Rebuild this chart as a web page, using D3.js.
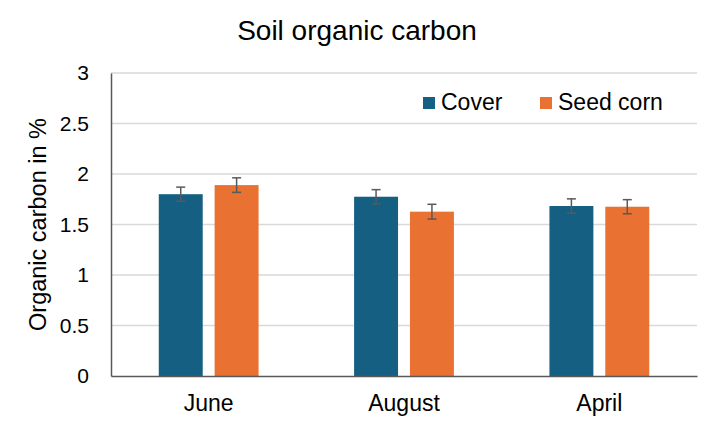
<!DOCTYPE html>
<html>
<head>
<meta charset="utf-8">
<script src="https://cdn.jsdelivr.net/npm/d3@7"></script>
<style>
  body { margin: 0; background: #fff; }
  text { font-family: "Liberation Sans", Arial, Helvetica, sans-serif; fill: #000; }
</style>
</head>
<body>
<svg id="chart" width="720" height="430"></svg>
<script>
const categories = ["June", "August", "April"];
const seriesNames = ["Cover", "Seed corn"];
const coverValues = [1.80, 1.775, 1.683];
const seedCornValues = [1.89, 1.627, 1.676];
const coverErrors = [0.07, 0.07, 0.071];
const seedCornErrors = [0.072, 0.073, 0.07];
const yTicks = [0, 0.5, 1, 1.5, 2, 2.5, 3];
const colors = ["#156082", "#E97132"];

const svg = d3.select("#chart");
const margin = { left: 111, right: 23, top: 73, bottom: 54 };
const W = 720, H = 430;

const x = d3.scaleBand().domain(categories).range([margin.left, W - margin.right]).paddingInner(0).paddingOuter(0);
const barW = x.bandwidth() * 0.225;
const gap = x.bandwidth() * 0.061;
const y = d3.scaleLinear().domain([0, 3]).range([H - margin.bottom, margin.top]);

// gridlines
svg.append("g").selectAll("line").data(yTicks.filter(t => t > 0)).join("line")
  .attr("x1", margin.left).attr("x2", W - margin.right)
  .attr("y1", d => y(d)).attr("y2", d => y(d))
  .attr("stroke", "#d9d9d9").attr("stroke-width", 1.3);

// bars
const data = categories.map((c, i) => ({
  cat: c,
  vals: [
    { s: 0, v: coverValues[i], e: coverErrors[i] },
    { s: 1, v: seedCornValues[i], e: seedCornErrors[i] }
  ]
}));

const offset = s => x.bandwidth() / 2 + (s === 0 ? -gap / 2 - barW : gap / 2);

const g = svg.append("g");
data.forEach(d => {
  d.vals.forEach(b => {
    const bx = x(d.cat) + offset(b.s);
    g.append("rect")
      .attr("x", bx).attr("y", y(b.v))
      .attr("width", barW).attr("height", y(0) - y(b.v))
      .attr("fill", colors[b.s]);
    const cx = bx + barW / 2;
    const eg = g.append("g").attr("stroke", "#595959").attr("stroke-width", 1.5);
    eg.append("line").attr("x1", cx).attr("x2", cx).attr("y1", y(b.v + b.e)).attr("y2", y(b.v - b.e));
    eg.append("line").attr("x1", cx - 4.5).attr("x2", cx + 4.5).attr("y1", y(b.v + b.e)).attr("y2", y(b.v + b.e));
    eg.append("line").attr("x1", cx - 4.5).attr("x2", cx + 4.5).attr("y1", y(b.v - b.e)).attr("y2", y(b.v - b.e));
  });
});

// axes
const yAxis = d3.axisLeft(y).tickValues(yTicks).tickSize(0).tickPadding(22).tickFormat(d3.format("~g"));
const ya = svg.append("g").attr("transform", `translate(${margin.left},0)`).call(yAxis);
ya.select(".domain").attr("stroke", "#595959").attr("stroke-width", 1.5);
ya.selectAll("text").attr("font-size", 21).attr("fill", "#000").attr("font-family", "Liberation Sans, Arial, sans-serif");

const xAxis = d3.axisBottom(x).tickSize(0).tickPadding(19);
const xa = svg.append("g").attr("transform", `translate(0,${y(0)})`).call(xAxis);
xa.select(".domain").attr("stroke", "#595959").attr("stroke-width", 1.5);
xa.selectAll("text").attr("font-size", 23).attr("fill", "#000").attr("font-family", "Liberation Sans, Arial, sans-serif");

// title
svg.append("text").attr("x", 357).attr("y", 40).attr("text-anchor", "middle")
  .attr("font-size", 28).text("Soil organic carbon");

// y-axis title
svg.append("text").attr("transform", `translate(46,${(y(0) + y(3)) / 2}) rotate(-90)`)
  .attr("text-anchor", "middle").attr("font-size", 23.5).text("Organic carbon in %");

// legend
const legendX = [423, 540];
seriesNames.forEach((n, i) => {
  svg.append("rect").attr("x", legendX[i]).attr("y", 97).attr("width", 12).attr("height", 12).attr("fill", colors[i]);
  svg.append("text").attr("x", legendX[i] + 18).attr("y", 110).attr("font-size", 23).text(n);
});
</script>
</body>
</html>
